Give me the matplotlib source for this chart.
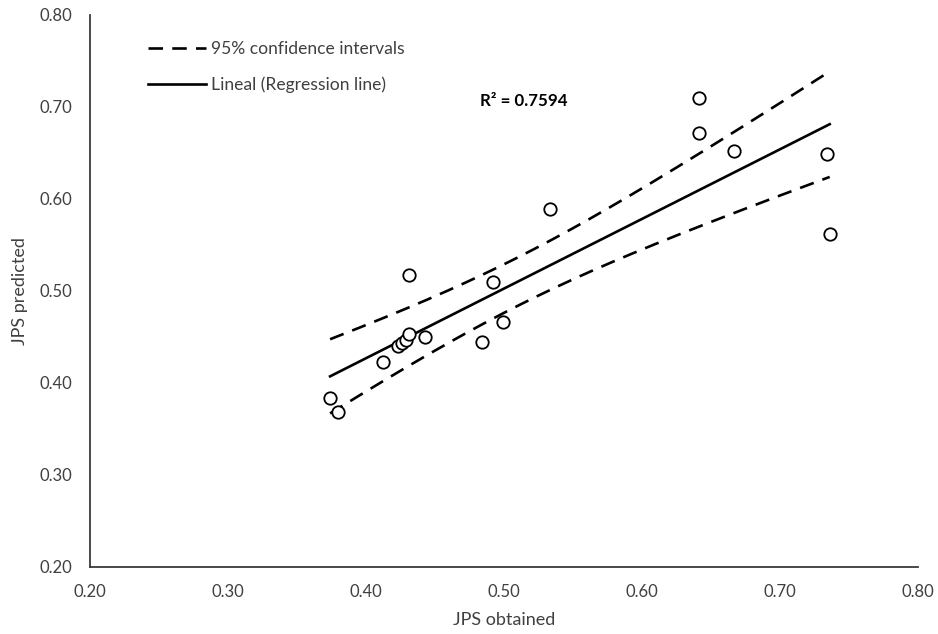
import numpy as np
import matplotlib
matplotlib.use('Agg')
import matplotlib.pyplot as plt
from matplotlib.lines import Line2D

# JPS obtained vs predicted
jps_obtained = [0.374, 0.380, 0.412, 0.423, 0.426, 0.429, 0.431, 0.431, 0.443,
                0.484, 0.492, 0.499, 0.533, 0.641, 0.641, 0.667, 0.734, 0.736]
jps_predicted = [0.384, 0.368, 0.423, 0.440, 0.443, 0.447, 0.453, 0.517, 0.450,
                 0.445, 0.510, 0.466, 0.589, 0.710, 0.672, 0.652, 0.649, 0.562]
r2_label = 'R² = 0.7594'
x_ticks = [0.20, 0.30, 0.40, 0.50, 0.60, 0.70, 0.80]
y_ticks = [0.20, 0.30, 0.40, 0.50, 0.60, 0.70, 0.80]
t_crit = 2.12  # t(0.975, df=16)

x = np.array(jps_obtained)
y = np.array(jps_predicted)
n = len(x)
slope, intercept = np.polyfit(x, y, 1)
resid = y - (slope * x + intercept)
s = np.sqrt(np.sum(resid ** 2) / (n - 2))
sxx = np.sum((x - x.mean()) ** 2)

xl = np.linspace(x.min(), x.max(), 200)
yl = slope * xl + intercept
half = t_crit * s * np.sqrt(1 / n + (xl - x.mean()) ** 2 / sxx)

plt.rcParams['font.family'] = ['Lato', 'DejaVu Sans']
grey = '#404040'

fig = plt.figure(figsize=(9.38, 6.34), dpi=100)
ax = fig.add_axes([0.0959, 0.1057, 0.8828, 0.8707])

dash = (5.5, 3.5)
ax.plot(xl, yl + half, color='black', lw=1.9, dashes=dash, zorder=2)
ax.plot(xl, yl - half, color='black', lw=1.9, dashes=dash, zorder=2)
ax.plot(xl, yl, color='black', lw=1.9, zorder=2)
ax.scatter(x, y, s=80, facecolors='white', edgecolors='black', linewidths=1.3, zorder=3)

ax.set_xlim(0.2, 0.8)
ax.set_ylim(0.2, 0.8)
ax.set_xticks(x_ticks)
ax.set_yticks(y_ticks)
ax.set_xticklabels([f'{v:.2f}' for v in x_ticks])
ax.set_yticklabels([f'{v:.2f}' for v in y_ticks])
ax.tick_params(length=0, labelsize=12, labelcolor=grey)
ax.tick_params(axis='x', pad=12)
ax.tick_params(axis='y', pad=13)
for side in ['top', 'right']:
    ax.spines[side].set_visible(False)
for side in ['left', 'bottom']:
    ax.spines[side].set_color('#3a3a3a')
    ax.spines[side].set_linewidth(1.3)

ax.set_xlabel('JPS obtained', fontsize=13, color=grey, labelpad=9)
ax.set_ylabel('JPS predicted', fontsize=13, color=grey, labelpad=8)

ax.text(0.471, 0.844, r2_label, transform=ax.transAxes, fontsize=12.2,
        fontweight='bold', va='center', ha='left', color='black')

handles = [Line2D([], [], color='black', lw=1.9, dashes=dash),
           Line2D([], [], color='black', lw=1.9)]
leg = ax.legend(handles, ['95% confidence intervals', 'Lineal (Regression line)'],
                loc='upper left', bbox_to_anchor=(0.06, 0.968), frameon=False,
                fontsize=12.6, handlelength=3.3, handletextpad=0.3,
                labelspacing=1.1, borderpad=0)
for t in leg.get_texts():
    t.set_color(grey)

fig.savefig('out.png', dpi=100)
